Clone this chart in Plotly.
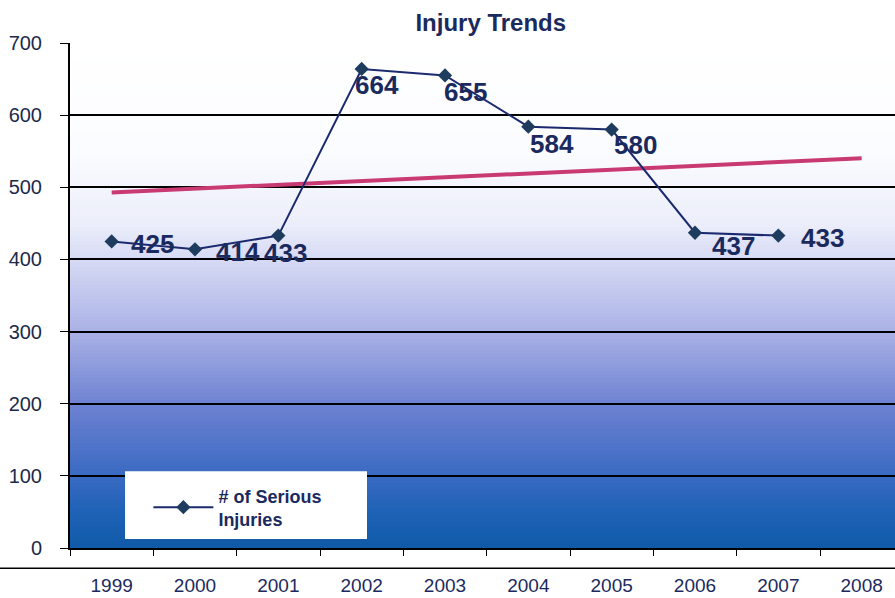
import numpy as np
import plotly.graph_objects as go

# ---- data ----
years = ["1999", "2000", "2001", "2002", "2003", "2004", "2005", "2006", "2007", "2008"]
injury_years = ["1999", "2000", "2001", "2002", "2003", "2004", "2005", "2006", "2007"]
serious_injuries = [425, 414, 433, 664, 655, 584, 580, 437, 433]
y_ticks = [0, 100, 200, 300, 400, 500, 600, 700]

# label offsets (pixels, style only)
label_dx = [41, 43, 7, 15, 20, 24, 24, 38, 44]
label_dy = [-3, -3, -17, -16, -17, -17, -15, -13, -2]

# linear trend (Excel-style trendline, extended one period forward)
xi = np.arange(len(serious_injuries))
slope, intercept = np.polyfit(xi, serious_injuries, 1)
trend_x = [years[0], years[-1]]
trend_y = [intercept, intercept + slope * (len(years) - 1)]

NAVY = "#1b2a5e"
FONT = "Arial, Liberation Sans, sans-serif"

fig = go.Figure()

fig.add_trace(go.Scatter(
    x=trend_x, y=trend_y, mode="lines",
    line=dict(color="#c93a72", width=4), showlegend=False, hoverinfo="skip"))

fig.add_trace(go.Scatter(
    x=injury_years, y=serious_injuries, mode="lines+markers",
    name="# of Serious<br>Injuries",
    line=dict(color="#1b2a6e", width=2),
    marker=dict(symbol="diamond", size=11, color="#1d3c5e")))

annotations = []
for i, (yv, dx, dy) in enumerate(zip(serious_injuries, label_dx, label_dy)):
    annotations.append(dict(x=i, y=yv, xref="x", yref="y", text=str(yv), showarrow=False,
                            xshift=dx, yshift=dy,
                            font=dict(family=FONT, size=26, color=NAVY, weight="bold")))

# gradient background via thin bands
stops = [(0, (16, 90, 168)), (50, (31, 98, 182)), (100, (58, 106, 194)), (200, (110, 130, 210)),
         (300, (170, 178, 230)), (400, (214, 218, 244)), (450, (236, 238, 250)),
         (550, (251, 252, 255)), (700, (255, 255, 255))]
shapes = []
step = 5
for y0 in range(0, 700, step):
    ym = y0 + step / 2
    for (a, ca), (b, cb) in zip(stops[:-1], stops[1:]):
        if a <= ym <= b:
            t = (ym - a) / (b - a)
            c = tuple(int(round(ca[k] + (cb[k] - ca[k]) * t)) for k in range(3))
            break
    shapes.append(dict(type="rect", xref="paper", yref="y", x0=0, x1=1, y0=y0,
                       y1=min(y0 + step + 3, 700),
                       fillcolor="rgb(%d,%d,%d)" % c, line=dict(width=0), layer="below"))
# separating line below the chart
shapes.append(dict(type="line", xref="paper", yref="paper", x0=-0.2, x1=1.05, y0=-0.04, y1=-0.04,
                   line=dict(color="black", width=1.5)))
# white legend box
shapes.append(dict(type="rect", xref="paper", yref="paper", x0=0.0667, x1=0.36, y0=0.018, y1=0.152,
                   fillcolor="white", line=dict(width=0), layer="above"))

fig.update_layout(
    width=895, height=598,
    margin=dict(l=70, r=0, t=43, b=50),
    paper_bgcolor="white", plot_bgcolor="white",
    shapes=shapes,
    annotations=annotations,
    title=dict(text="<b>Injury Trends</b>", xref="paper", x=0.51, xanchor="center",
               y=0.962, yanchor="middle",
               font=dict(family=FONT, size=24, color=NAVY)),
    xaxis=dict(type="category", categoryorder="array", categoryarray=years,
               range=[-0.5, 9.4], showgrid=False, ticks="outside", tickson="boundaries",
               ticklen=6, tickcolor="black", ticklabelstandoff=19, automargin=False,
               showline=True, linecolor="black", linewidth=2,
               tickfont=dict(family=FONT, size=19, color=NAVY)),
    yaxis=dict(range=[0, 700], tickvals=y_ticks, showgrid=True, gridcolor="black", gridwidth=1.5,
               ticks="outside", ticklen=8, tickcolor="black", showline=True, linecolor="black",
               linewidth=2, zeroline=False, layer="below traces", automargin=False,
               ticklabelstandoff=14,
               tickfont=dict(family=FONT, size=20, color="#1b2a4a")),
    legend=dict(x=0.095, y=0.14, xanchor="left", yanchor="top", bgcolor="rgba(0,0,0,0)",
                font=dict(family=FONT, size=18, color=NAVY, weight="bold"),
                itemwidth=60),
    showlegend=True,
)

fig.write_html("out.html", config={"displayModeBar": False},
               post_script="document.body.style.margin='0';document.body.style.overflow='hidden';")
